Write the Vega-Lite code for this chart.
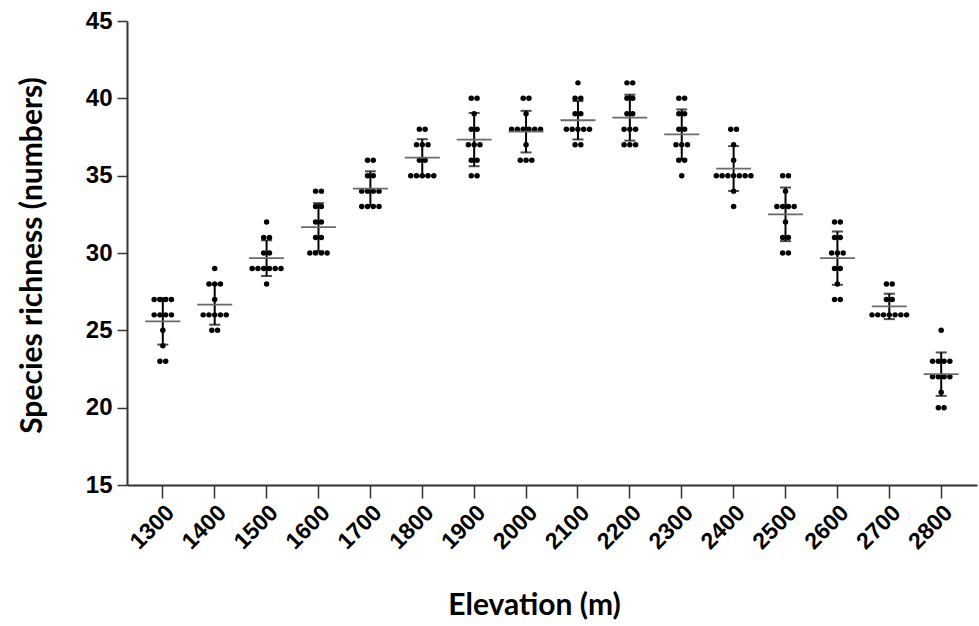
{
  "$schema": "https://vega.github.io/schema/vega-lite/v6.json",
  "width": 850,
  "height": 464,
  "autosize": {"type": "none"},
  "padding": {"left": 127, "top": 21, "right": 2, "bottom": 141},
  "background": "white",
  "config": {
    "view": {"stroke": null},
    "axis": {"grid": false, "domainColor": "#333333", "domainWidth": 2, "tickColor": "#333333", "tickWidth": 1.5, "labelColor": "black", "labelFont": "Liberation Sans", "labelFontWeight": "bold", "titleFont": "Lato", "titleFontWeight": "bold", "titleColor": "black", "titleFontSize": 30},
    "axisX": {"tickSize": 13, "labelAngle": -45, "labelFontSize": 23, "labelPadding": 3, "titleX": 407, "titleY": 120, "titleBaseline": "middle"},
    "axisY": {"tickSize": 10, "labelFontSize": 24, "labelPadding": 5, "titleX": -95, "titleY": 234, "titleBaseline": "middle", "titleAngle": -90}
  },
  "data": {"values": [
    {"elevation": "1300", "richness": 27}, {"elevation": "1300", "richness": 27}, {"elevation": "1300", "richness": 27}, {"elevation": "1300", "richness": 27},
    {"elevation": "1300", "richness": 26}, {"elevation": "1300", "richness": 26}, {"elevation": "1300", "richness": 26}, {"elevation": "1300", "richness": 26},
    {"elevation": "1300", "richness": 25}, {"elevation": "1300", "richness": 24}, {"elevation": "1300", "richness": 23}, {"elevation": "1300", "richness": 23},
    {"elevation": "1400", "richness": 29}, {"elevation": "1400", "richness": 28}, {"elevation": "1400", "richness": 28}, {"elevation": "1400", "richness": 28},
    {"elevation": "1400", "richness": 27}, {"elevation": "1400", "richness": 26}, {"elevation": "1400", "richness": 26}, {"elevation": "1400", "richness": 26},
    {"elevation": "1400", "richness": 26}, {"elevation": "1400", "richness": 26}, {"elevation": "1400", "richness": 25}, {"elevation": "1400", "richness": 25},
    {"elevation": "1500", "richness": 32}, {"elevation": "1500", "richness": 31}, {"elevation": "1500", "richness": 31}, {"elevation": "1500", "richness": 30},
    {"elevation": "1500", "richness": 30}, {"elevation": "1500", "richness": 29}, {"elevation": "1500", "richness": 29}, {"elevation": "1500", "richness": 29},
    {"elevation": "1500", "richness": 29}, {"elevation": "1500", "richness": 29}, {"elevation": "1500", "richness": 29}, {"elevation": "1500", "richness": 28},
    {"elevation": "1600", "richness": 34}, {"elevation": "1600", "richness": 34}, {"elevation": "1600", "richness": 33}, {"elevation": "1600", "richness": 33},
    {"elevation": "1600", "richness": 32}, {"elevation": "1600", "richness": 32}, {"elevation": "1600", "richness": 31}, {"elevation": "1600", "richness": 31},
    {"elevation": "1600", "richness": 30}, {"elevation": "1600", "richness": 30}, {"elevation": "1600", "richness": 30}, {"elevation": "1600", "richness": 30},
    {"elevation": "1700", "richness": 36}, {"elevation": "1700", "richness": 36}, {"elevation": "1700", "richness": 35}, {"elevation": "1700", "richness": 35},
    {"elevation": "1700", "richness": 34}, {"elevation": "1700", "richness": 34}, {"elevation": "1700", "richness": 34}, {"elevation": "1700", "richness": 34},
    {"elevation": "1700", "richness": 33}, {"elevation": "1700", "richness": 33}, {"elevation": "1700", "richness": 33}, {"elevation": "1700", "richness": 33},
    {"elevation": "1800", "richness": 38}, {"elevation": "1800", "richness": 38}, {"elevation": "1800", "richness": 37}, {"elevation": "1800", "richness": 37},
    {"elevation": "1800", "richness": 37}, {"elevation": "1800", "richness": 36}, {"elevation": "1800", "richness": 36}, {"elevation": "1800", "richness": 35},
    {"elevation": "1800", "richness": 35}, {"elevation": "1800", "richness": 35}, {"elevation": "1800", "richness": 35}, {"elevation": "1800", "richness": 35},
    {"elevation": "1900", "richness": 40}, {"elevation": "1900", "richness": 40}, {"elevation": "1900", "richness": 39}, {"elevation": "1900", "richness": 38},
    {"elevation": "1900", "richness": 38}, {"elevation": "1900", "richness": 37}, {"elevation": "1900", "richness": 37}, {"elevation": "1900", "richness": 37},
    {"elevation": "1900", "richness": 36}, {"elevation": "1900", "richness": 36}, {"elevation": "1900", "richness": 35}, {"elevation": "1900", "richness": 35},
    {"elevation": "2000", "richness": 40}, {"elevation": "2000", "richness": 40}, {"elevation": "2000", "richness": 39}, {"elevation": "2000", "richness": 38},
    {"elevation": "2000", "richness": 38}, {"elevation": "2000", "richness": 38}, {"elevation": "2000", "richness": 38}, {"elevation": "2000", "richness": 38},
    {"elevation": "2000", "richness": 38}, {"elevation": "2000", "richness": 37}, {"elevation": "2000", "richness": 36}, {"elevation": "2000", "richness": 36},
    {"elevation": "2000", "richness": 36},
    {"elevation": "2100", "richness": 41}, {"elevation": "2100", "richness": 40}, {"elevation": "2100", "richness": 40}, {"elevation": "2100", "richness": 39},
    {"elevation": "2100", "richness": 39}, {"elevation": "2100", "richness": 38}, {"elevation": "2100", "richness": 38}, {"elevation": "2100", "richness": 38},
    {"elevation": "2100", "richness": 38}, {"elevation": "2100", "richness": 38}, {"elevation": "2100", "richness": 37}, {"elevation": "2100", "richness": 37},
    {"elevation": "2200", "richness": 41}, {"elevation": "2200", "richness": 41}, {"elevation": "2200", "richness": 40}, {"elevation": "2200", "richness": 40},
    {"elevation": "2200", "richness": 39}, {"elevation": "2200", "richness": 39}, {"elevation": "2200", "richness": 38}, {"elevation": "2200", "richness": 38},
    {"elevation": "2200", "richness": 38}, {"elevation": "2200", "richness": 37}, {"elevation": "2200", "richness": 37}, {"elevation": "2200", "richness": 37},
    {"elevation": "2300", "richness": 40}, {"elevation": "2300", "richness": 40}, {"elevation": "2300", "richness": 39}, {"elevation": "2300", "richness": 39},
    {"elevation": "2300", "richness": 38}, {"elevation": "2300", "richness": 38}, {"elevation": "2300", "richness": 37}, {"elevation": "2300", "richness": 37},
    {"elevation": "2300", "richness": 37}, {"elevation": "2300", "richness": 36}, {"elevation": "2300", "richness": 36}, {"elevation": "2300", "richness": 35},
    {"elevation": "2400", "richness": 38}, {"elevation": "2400", "richness": 38}, {"elevation": "2400", "richness": 37}, {"elevation": "2400", "richness": 36},
    {"elevation": "2400", "richness": 35}, {"elevation": "2400", "richness": 35}, {"elevation": "2400", "richness": 35}, {"elevation": "2400", "richness": 35},
    {"elevation": "2400", "richness": 35}, {"elevation": "2400", "richness": 35}, {"elevation": "2400", "richness": 35}, {"elevation": "2400", "richness": 34},
    {"elevation": "2400", "richness": 33},
    {"elevation": "2500", "richness": 35}, {"elevation": "2500", "richness": 35}, {"elevation": "2500", "richness": 34}, {"elevation": "2500", "richness": 33},
    {"elevation": "2500", "richness": 33}, {"elevation": "2500", "richness": 33}, {"elevation": "2500", "richness": 33}, {"elevation": "2500", "richness": 32},
    {"elevation": "2500", "richness": 31}, {"elevation": "2500", "richness": 31}, {"elevation": "2500", "richness": 30}, {"elevation": "2500", "richness": 30},
    {"elevation": "2600", "richness": 32}, {"elevation": "2600", "richness": 32}, {"elevation": "2600", "richness": 31}, {"elevation": "2600", "richness": 31},
    {"elevation": "2600", "richness": 30}, {"elevation": "2600", "richness": 30}, {"elevation": "2600", "richness": 30}, {"elevation": "2600", "richness": 29},
    {"elevation": "2600", "richness": 29}, {"elevation": "2600", "richness": 28}, {"elevation": "2600", "richness": 27}, {"elevation": "2600", "richness": 27},
    {"elevation": "2700", "richness": 28}, {"elevation": "2700", "richness": 28}, {"elevation": "2700", "richness": 27}, {"elevation": "2700", "richness": 27},
    {"elevation": "2700", "richness": 26}, {"elevation": "2700", "richness": 26}, {"elevation": "2700", "richness": 26}, {"elevation": "2700", "richness": 26},
    {"elevation": "2700", "richness": 26}, {"elevation": "2700", "richness": 26}, {"elevation": "2700", "richness": 26},
    {"elevation": "2800", "richness": 25}, {"elevation": "2800", "richness": 23}, {"elevation": "2800", "richness": 23}, {"elevation": "2800", "richness": 23},
    {"elevation": "2800", "richness": 23}, {"elevation": "2800", "richness": 22}, {"elevation": "2800", "richness": 22}, {"elevation": "2800", "richness": 22},
    {"elevation": "2800", "richness": 22}, {"elevation": "2800", "richness": 21}, {"elevation": "2800", "richness": 20}, {"elevation": "2800", "richness": 20}
  ]},
  "encoding": {
    "x": {"field": "elevation", "type": "ordinal", "title": "Elevation (m)", "scale": {"type": "band", "paddingInner": 0, "paddingOuter": 0.19}}
  },
  "layer": [
    {
      "transform": [
        {"window": [{"op": "row_number", "as": "rank"}], "groupby": ["elevation", "richness"]},
        {"joinaggregate": [{"op": "count", "as": "n"}], "groupby": ["elevation", "richness"]},
        {"calculate": "datum.rank - (datum.n + 1) / 2", "as": "spread"}
      ],
      "mark": {"type": "point", "filled": true, "color": "black", "size": 30, "opacity": 1},
      "encoding": {
        "y": {"field": "richness", "type": "quantitative", "title": "Species richness (numbers)", "scale": {"domain": [15, 45], "nice": false, "zero": false}, "axis": {"values": [15, 20, 25, 30, 35, 40, 45]}},
        "xOffset": {"field": "spread", "type": "quantitative", "scale": {"domain": [-4.5, 4.5], "zero": false, "nice": false}}
      }
    },
    {
      "mark": {"type": "errorbar", "extent": "stdev", "ticks": {"size": 11}, "thickness": 2, "color": "black"},
      "encoding": {
        "y": {"field": "richness", "type": "quantitative", "title": "Species richness (numbers)", "axis": {"values": [15, 20, 25, 30, 35, 40, 45]}}
      }
    },
    {
      "mark": {"type": "tick", "color": "#6a6a6a", "size": 35, "thickness": 1.8},
      "encoding": {
        "y": {"aggregate": "mean", "field": "richness", "type": "quantitative", "title": "Species richness (numbers)", "axis": {"values": [15, 20, 25, 30, 35, 40, 45]}}
      }
    }
  ]
}
